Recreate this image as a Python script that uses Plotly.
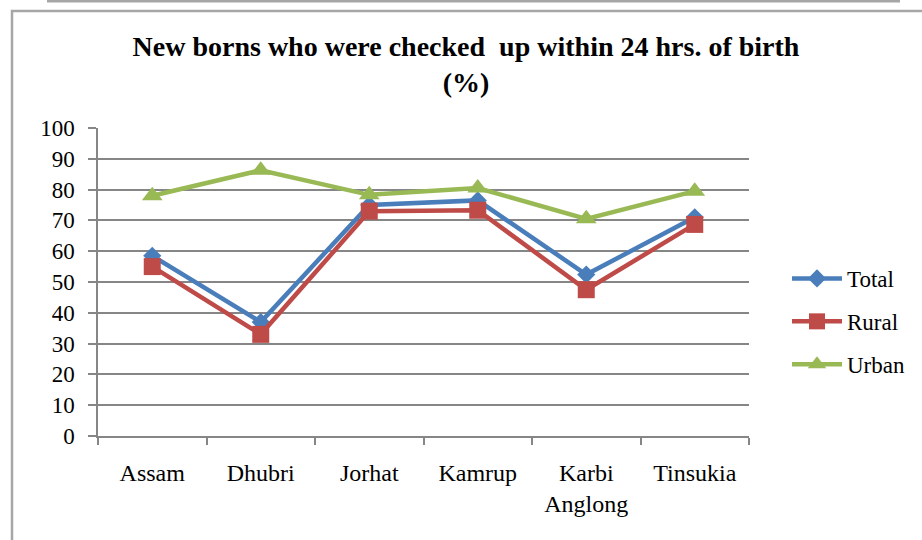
import plotly.graph_objects as go

categories = ["Assam", "Dhubri", "Jorhat", "Kamrup", "Karbi<br>Anglong", "Tinsukia"]
total = [58.5, 37, 75, 76.5, 52.4, 71]
rural = [55, 33, 73, 73.3, 47.5, 68.7]
urban = [78, 86.3, 78.3, 80.5, 70.5, 79.5]
y_ticks = [0, 10, 20, 30, 40, 50, 60, 70, 80, 90, 100]

W, H = 922, 540
L, R, T, B = 98, 173, 128, 104
pw, ph = W - L - R, H - T - B

def px(x):
    return (x - L) / pw

def py(y):
    return (H - B - y) / ph

FONT = "Liberation Serif"
GRID = "#868686"

fig = go.Figure()
fig.add_trace(go.Scatter(x=categories, y=total, name="Total", mode="lines+markers", legendgroup="a",
                         line=dict(color="#4A7EBB", width=4.5),
                         marker=dict(symbol="diamond", size=14, color="#4A7EBB")))
fig.add_trace(go.Scatter(x=categories, y=rural, name="Rural", mode="lines+markers", legendgroup="b",
                         line=dict(color="#BE4B48", width=4.5),
                         marker=dict(symbol="square", size=17, color="#BE4B48")))
fig.add_trace(go.Scatter(x=categories, y=urban, name="Urban", mode="lines+markers", legendgroup="c",
                         line=dict(color="#98B954", width=4.5),
                         marker=dict(symbol="triangle-up", size=18, color="#98B954")))

fig.update_layout(
    width=W, height=H,
    margin=dict(l=L, r=R, t=T, b=B, pad=0),
    paper_bgcolor="white", plot_bgcolor="white",
    font=dict(family=FONT, size=23, color="black"),
    title=dict(text="<b>New borns who were checked  up within 24 hrs. of birth</b><br><b>(%)</b>",
               x=466 / W, xanchor="center", xref="container", y=1 - 56 / H, yanchor="top",
               font=dict(family=FONT, size=28, color="black")),
    showlegend=True,
    legend=dict(x=px(787), y=py(257), xanchor="left", yanchor="top",
                font=dict(family=FONT, size=23), tracegroupgap=10,
                itemwidth=50, bgcolor="rgba(0,0,0,0)"),
    xaxis=dict(type="category", showgrid=False, showline=True, linecolor=GRID, linewidth=1.5,
               ticks="outside", ticklen=7, tickcolor=GRID, tickwidth=1.5,
               tickson="boundaries", ticklabelstandoff=14, range=[-0.5, 5.5],
               tickfont=dict(family=FONT, size=24)),
    yaxis=dict(range=[0, 100], tickvals=y_ticks, showgrid=True, gridcolor=GRID, gridwidth=1.5,
               showline=True, linecolor=GRID, linewidth=1.5, zeroline=False,
               ticks="outside", ticklen=8, tickcolor=GRID, tickwidth=1.5,
               ticklabelstandoff=9, tickfont=dict(family=FONT, size=23)),
    shapes=[
        dict(type="rect", xref="paper", yref="paper", x0=px(12), x1=px(935), y0=py(11), y1=py(560),
             line=dict(color="#A6A6A6", width=2.5), layer="below"),
        dict(type="line", xref="paper", yref="paper", x0=px(47), x1=px(900), y0=py(0.5), y1=py(0.5),
             line=dict(color="#A6A6A6", width=4), layer="below"),
    ],
)

fig.write_html("out.html", config={"displayModeBar": False},
               post_script="document.body.style.margin='0';")
